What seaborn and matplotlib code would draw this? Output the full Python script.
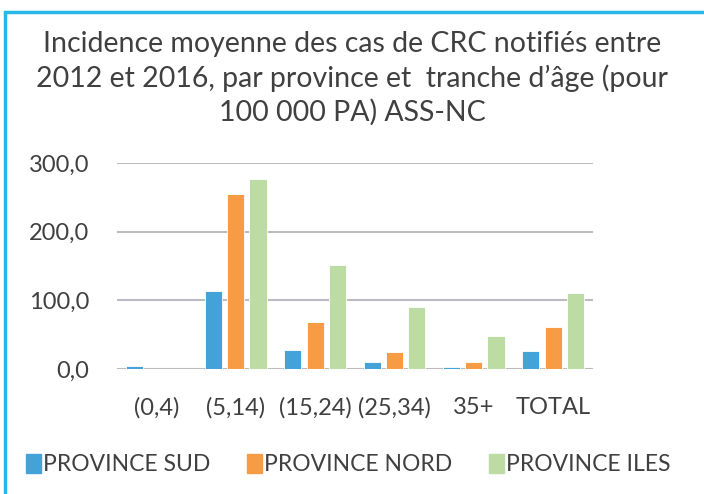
import numpy as np
import pandas as pd
import matplotlib
matplotlib.use("Agg")
import matplotlib.pyplot as plt
import seaborn as sns
from matplotlib.patches import Rectangle
from matplotlib.ticker import FuncFormatter

# data
categories = ["(0,4)", "(5,14)", "(15,24)", "(25,34)", "35+", "TOTAL"]
provinces = ["PROVINCE SUD", "PROVINCE NORD", "PROVINCE ILES"]
sud = [4.4, 113.0, 27.0, 10.7, 3.4, 26.0]
nord = [0.0, 255.0, 69.0, 25.0, 10.7, 61.0]
iles = [0.0, 276.0, 151.0, 90.0, 48.6, 111.0]
colors = ["#43A3D8", "#F79C45", "#BDDCA4"]

df = pd.DataFrame({
    "cat": categories * 3,
    "prov": np.repeat(provinces, len(categories)),
    "val": sud + nord + iles,
})

sns.set_style("white")
plt.rcParams["font.family"] = ["Lato", "DejaVu Sans"]
text_col = "#404040"

fig = plt.figure(figsize=(7.04, 4.94), dpi=100)
ax = fig.add_axes([0.166, 0.253, 0.676, 0.417])

sns.barplot(data=df, x="cat", y="val", hue="prov", order=categories,
            hue_order=provinces, palette=colors, saturation=1, width=0.84, gap=0.23,
            edgecolor="white", linewidth=0.6, ax=ax, legend=False)

ax.set_ylim(0, 300)
ax.set_yticks([0, 100, 200, 300])
ax.yaxis.set_major_formatter(FuncFormatter(lambda v, p: f"{v:.1f}".replace(".", ",")))
ax.yaxis.grid(True, color="#BBBBC0", linewidth=1.5)
ax.set_axisbelow(True)
for s in ax.spines.values():
    s.set_visible(False)
ax.tick_params(axis="both", length=0, labelsize=17, colors=text_col)
ax.tick_params(axis="y", pad=20)
ax.tick_params(axis="x", pad=20)
ax.set_xlabel("")
ax.set_ylabel("")

fig.text(0.5, 0.938, "Incidence moyenne des cas de CRC notifiés entre\n"
         "2012 et 2016, par province et  tranche d’âge (pour\n100 000 PA) ASS-NC",
         ha="center", va="top", fontsize=20.5, color=text_col, linespacing=1.33)

handles = [Rectangle((0, 0), 1, 1, color=c) for c in colors]
fig.legend(handles, provinces, loc="center", bbox_to_anchor=(0.495, 0.06),
           ncol=3, frameon=False, fontsize=16.5, handlelength=0.65, handleheight=0.9,
           handletextpad=0.1, columnspacing=1.6, labelcolor=text_col)

# light blue frame around the chart
fig.patches.append(Rectangle((0.007, -0.05), 1.1, 1.026, transform=fig.transFigure,
                             fill=False, edgecolor="#29B6E8", linewidth=2.5))

fig.savefig("out.png", dpi=100)
